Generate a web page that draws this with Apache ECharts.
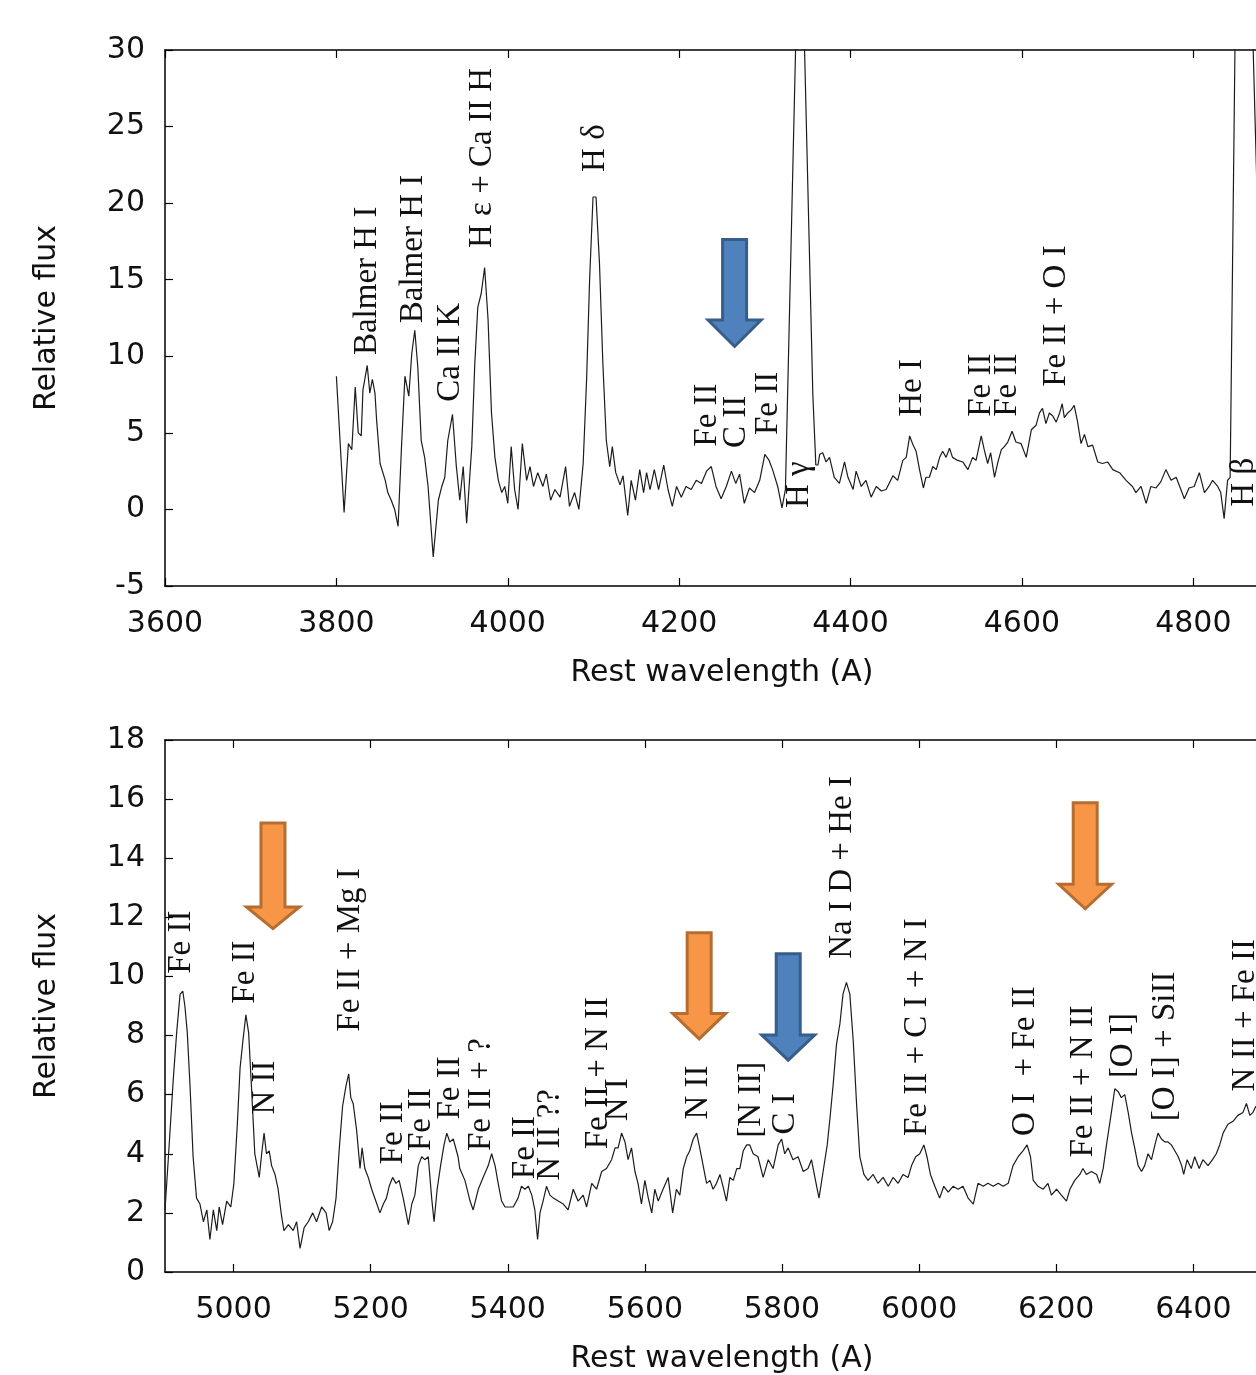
<!DOCTYPE html>
<html>
<head>
<meta charset="utf-8">
<script src="https://cdn.jsdelivr.net/npm/echarts@6/dist/echarts.min.js"></script>
<style>
html, body { margin: 0; padding: 0; background: #fff; overflow: hidden; }
#chart { width: 1300px; height: 1375px; }
</style>
</head>
<body>
<div id="chart"></div>
<script>
// ---------- DATA ----------
const topSpectrum = [
[3800,8.7],[3809,-0.2],[3814,4.3],[3818,3.9],[3822,8.0],[3825.5,5.0],[3829,4.8],[3831,7.8],[3836,9.4],[3839,7.6],[3842,8.5],[3845,7.6],[3847,5.8],[3851,3.0],[3857,1.9],[3860,1.1],[3864,0.6],[3868,0.0],[3872,-1.1],[3876,4.1],[3880,8.7],[3884.5,7.4],[3888,10.2],[3891.5,11.7],[3895,9.3],[3899,4.5],[3903,3.4],[3907,1.5],[3913,-3.1],[3919,0.6],[3923,1.5],[3926.5,2.1],[3930,4.5],[3935.5,6.2],[3940,2.8],[3944,0.6],[3948,2.8],[3952,-0.9],[3958,4.1],[3961.5,9.5],[3965,13.2],[3969,14.1],[3973,15.8],[3977,12.4],[3981,6.3],[3985,3.4],[3989,1.9],[3993,1.1],[3996.5,1.5],[4000,0.4],[4004,4.1],[4008,1.3],[4012,0.0],[4017,4.3],[4022,1.9],[4026,2.8],[4030,1.5],[4035,2.4],[4041,1.5],[4045,2.3],[4050,0.6],[4055,1.3],[4061,0.8],[4067.5,2.8],[4072,0.2],[4078,1.1],[4083,0.0],[4088,3.0],[4092,8.5],[4095.5,15.0],[4099.5,20.4],[4103,20.4],[4107,16.1],[4111,9.5],[4115,4.5],[4119,2.8],[4122,4.1],[4126,2.4],[4131,1.6],[4134.5,2.2],[4140,-0.4],
[4144,1.9],[4149,0.6],[4154,2.6],[4158.5,1.1],[4162,2.4],[4166,1.3],[4171,2.6],[4176,1.3],[4182,2.9],[4187,1.3],[4192,0.2],[4197,1.5],[4202.5,0.8],[4208,1.5],[4214,1.3],[4220,1.9],[4226,1.7],[4232,2.5],[4237.5,2.8],[4243,1.5],[4249,0.7],[4255,1.5],[4261,2.5],[4266,1.7],[4270.5,2.3],[4276,0.4],[4282,1.4],[4288,1.1],[4294,1.9],[4300,3.6],[4305,3.2],[4309,2.6],[4315,1.5],[4320,0.1],[4324,1.3],
[4341,42.5],[4356,7.5],[4359.5,2.9],[4362,2.9],[4364,3.6],[4367.5,3.7],[4371.5,3.1],[4375.5,3.4],[4381,2.1],[4387,1.7],[4393,3.1],[4397,2.1],[4403,1.3],[4406.5,2.5],[4412.5,1.5],[4418,1.9],[4424,0.8],[4430,1.5],[4436,1.2],[4441.5,1.3],[4449.5,2.2],[4455,1.9],[4461,3.2],[4465,3.4],[4469,4.8],[4473,4.2],[4476.5,3.8],[4480.5,2.6],[4485,1.4],[4488,2.1],[4492,2.1],[4496,2.8],[4500,2.6],[4504,3.4],[4507.5,3.8],[4511.5,3.4],[4515.5,4.0],[4519,3.4],[4525,3.2],[4531,3.1],[4537,2.6],[4542.5,3.4],[4546.5,3.2],[4552.5,4.8],[4556,3.9],[4560,3.0],[4563.5,3.7],[4568,2.1],[4572,3.1],[4576,3.9],[4579.5,4.1],[4583.5,4.4],[4588.5,5.1],[4593,4.4],[4599,4.3],[4605,3.4],[4611,5.2],[4616.5,5.5],[4620.5,6.3],[4624,6.6],[4628,5.6],[4632,6.3],[4636,6.1],[4640,5.7],[4644,6.3],[4647,6.9],[4649.5,6.0],[4653.5,6.3],[4657.5,6.5],[4661,6.8],[4665,5.7],[4669,4.3],[4673,4.9],[4677,4.1],[4682.5,4.2],[4688.5,3.1],[4694,3.0],[4700,3.1],[4706,2.6],[4714,2.4],[4721.5,1.9],[4729,1.5],[4733,1.1],[4739,1.5],[4745,0.4],[4750.5,1.5],[4756.5,1.4],[4762,1.8],[4768,2.6],[4774,1.9],[4780,2.1],[4785.5,1.3],[4789.5,0.7],[4795,1.4],[4801,1.5],[4807,2.4],[4813,1.1],[4818.5,1.5],[4822.5,1.9],[4828.5,1.5],[4832,1.1],[4836,-0.6],[4840,1.9],[4843,2.1],[4855,62],[4866,38],[4872.3,25],[4880,9],[4888,3],[4900,2.0]
];

const bottomSpectrum = [
[4900,2.1],[4905,3.9],[4912,6.5],[4917,8.1],[4922,9.4],[4926,9.5],[4929,9.0],[4932.5,8.1],[4936.5,6.3],[4941,3.9],[4946,2.5],[4951,2.3],[4956,1.7],[4961,2.1],[4965.5,1.1],[4970.5,2.1],[4975.5,1.4],[4979,2.2],[4984,1.6],[4990,2.4],[4996,2.2],[5000.5,3.0],[5005.5,5.0],[5009.5,6.9],[5014,7.9],[5018,8.7],[5022,8.1],[5026.5,6.1],[5031,4.0],[5037.5,3.2],[5041,4.0],[5044.5,4.7],[5048,4.0],[5052,4.1],[5055.5,3.6],[5060.5,3.3],[5065,2.8],[5070,1.9],[5073.5,1.4],[5080,1.6],[5087,1.4],[5092,1.7],[5097,0.8],[5103,1.5],[5109,1.7],[5115.5,2.0],[5121,1.7],[5128.5,2.2],[5135,2.0],[5139.5,1.4],[5144.5,1.7],[5149.5,2.5],[5154,4.1],[5159,5.6],[5164,6.3],[5168,6.7],[5171,5.9],[5174.5,5.7],[5179.5,4.8],[5184.5,3.5],[5187.5,4.2],[5191.5,3.5],[5196.5,3.2],[5201.5,2.8],[5207.5,2.4],[5213.5,2.0],[5218.5,2.3],[5223,2.5],[5227,2.9],[5232,3.2],[5237,3.0],[5241.5,3.1],[5247.5,2.5],[5255,1.6],[5260,2.3],[5264.5,2.6],[5269.5,3.6],[5274.5,3.9],[5279,3.8],[5284,3.9],[5289,2.5],[5292.5,1.7],[5297,2.8],[5302,3.6],[5307,4.3],[5311,4.7],[5315.5,4.4],[5320.5,4.5],[5327.5,3.9],[5330,3.5],[5337.5,3.1],[5345,2.4],[5349.5,2.1],[5357,2.8],[5364,3.2],[5371.5,3.6],[5376.5,4.0],[5381.5,3.6],[5386,3.0],[5391,2.4],[5396,2.2],[5400.5,2.2],[5408,2.2],[5415,2.5],[5420,2.9],[5425,2.8],[5430,2.9],[5435,2.6],[5439.5,2.1],[5443.5,1.1],[5447,2.0],[5451.5,2.4],[5456.5,2.9],[5461.5,2.6],[5466.5,2.5],[5473.5,2.4],[5481,2.3],[5488,2.1],[5495.5,2.8],[5502.5,2.4],[5510,2.6],[5515,2.2],[5522.5,3.0],[5529.5,2.8],[5537,3.4],[5544,3.5],[5551.5,3.8],[5556.5,4.2],[5561,4.2],[5566,4.7],[5571,4.4],[5575.5,3.8],[5580.5,4.2],[5585.5,3.4],[5590,3.0],[5595,2.3],[5600,3.1],[5605,2.5],[5610,2.0],[5614.5,2.8],[5619.5,2.4],[5626.5,2.8],[5634,3.2],[5640.5,2.0],[5646,2.8],[5651,2.6],[5656,3.5],[5661,3.9],[5665.5,4.1],[5670.5,4.5],[5675.5,4.7],[5680,4.2],[5685,3.6],[5690,3.0],[5695,3.1],[5699.5,2.8],[5704.5,3.0],[5709.5,3.3],[5714,2.9],[5719,2.4],[5724,3.2],[5729,3.1],[5734,3.5],[5738.5,3.5],[5743.5,4.1],[5748.5,4.3],[5753,4.3],[5758,4.0],[5765,3.9],[5772.5,3.2],[5780,3.8],[5787,3.5],[5794.5,4.3],[5799.5,4.5],[5804,4.0],[5809,4.2],[5816,3.8],[5823.5,3.9],[5831,3.4],[5838,3.5],[5843,3.8],[5848,3.2],[5854,2.5],[5860,3.4],[5866,4.3],[5870,5.2],[5874.5,6.3],[5879.5,7.7],[5884.5,8.4],[5889,9.4],[5894,9.8],[5899,9.4],[5904,7.8],[5909,5.6],[5913.5,3.9],[5919.5,3.3],[5925.5,3.1],[5933,3.3],[5940,3.0],[5947.5,3.2],[5955,2.9],[5962,3.2],[5969.5,3.0],[5976.5,3.3],[5984,3.2],[5989,3.6],[5995,3.9],[6001,4.0],[6007,4.3],[6011.5,3.9],[6016.5,3.3],[6023,2.9],[6030,2.5],[6036,2.9],[6042.5,2.7],[6049.5,2.9],[6057,2.8],[6064,2.9],[6071.5,2.5],[6079,2.3],[6086,3.0],[6093.5,2.9],[6100.5,3.0],[6108,2.9],[6115.5,3.0],[6122.5,2.9],[6130,3.0],[6137,3.6],[6144.5,3.9],[6151.5,4.1],[6157.5,4.3],[6162.5,3.9],[6166.5,3.1],[6173.5,2.9],[6181,2.8],[6188,3.0],[6193,2.6],[6200.5,2.8],[6207.5,2.6],[6215,2.4],[6220,2.8],[6227,3.1],[6234.5,3.3],[6239,3.5],[6244,3.3],[6251.5,3.4],[6259,3.3],[6263.5,3.0],[6268.5,3.5],[6274,4.4],[6280.5,5.4],[6285.5,6.2],[6290.5,6.1],[6295,5.9],[6300,6.0],[6305,5.4],[6310,4.7],[6314.5,4.2],[6319.5,3.6],[6324.5,3.4],[6329,3.6],[6334,4.0],[6339,3.8],[6344,4.3],[6348.5,4.7],[6353.5,4.5],[6358.5,4.4],[6363,4.4],[6368,4.3],[6373,4.1],[6378,3.9],[6383,3.6],[6386,3.3],[6391,3.8],[6397,3.5],[6402,3.9],[6408.5,3.5],[6414,3.8],[6421.5,3.6],[6428,3.8],[6433.5,4.0],[6438.5,4.3],[6443.5,4.7],[6450.5,5.0],[6458,5.1],[6465,5.3],[6472.5,5.4],[6477.5,5.7],[6482.5,5.3],[6487,5.4],[6491,5.6],[6500,5.5]
];

const topXTicks = [3600, 3800, 4000, 4200, 4400, 4600, 4800];
const bottomXTicks = [5000, 5200, 5400, 5600, 5800, 6000, 6200, 6400];

const topLabelText = ['Balmer H I', 'Balmer H I', 'Ca II K', 'H \u03B5 + Ca II H', 'H \u03B4', 'Fe II', 'C II', 'Fe II', 'H \u03B3', 'He I', 'Fe II', 'Fe II', 'Fe II + O I', 'H \u03B2'];
const topLabelWl   = [3836.1, 3889.6, 3932.4, 3970.8, 4102.6, 4233.2, 4267.0, 4303.7, 4340.5, 4471.7, 4552.2, 4582.5, 4640.2, 4859.5];
const topLabelFlux = [10.08, 12.16, 7.03, 17.07, 22.04, 4.10, 4.01, 4.86, 0.09, 6.05, 6.05, 6.05, 8.01, 0.18];

const bottomLabelText = ['Fe II', 'Fe II', 'N II', 'Fe II + Mg I', 'Fe II', 'Fe II', 'Fe II', 'Fe II + ?', 'Fe II', 'N II ??', 'Fe II + N II', 'N I', 'N II', '[N II]', 'C I', 'Na I D + He I', 'Fe II + C I + N I', 'O I  + Fe II', 'Fe II + N II', '[O I]', '[O I] + SiII', 'N II + Fe II'];
const bottomLabelWl   = [4924.4, 5017.9, 5045.8, 5169.8, 5232.5, 5274.4, 5315.6, 5361.9, 5425.0, 5462.6, 5531.9, 5562.0, 5677.9, 5755.3, 5804.2, 5888.0, 5998.0, 6155.2, 6239.2, 6298.5, 6359.8, 6476.5];
const bottomLabelFlux = [10.09, 9.08, 5.33, 8.13, 3.64, 4.09, 5.16, 4.09, 3.14, 3.09, 4.15, 5.10, 5.16, 4.54, 4.65, 10.60, 4.60, 4.60, 3.87, 6.56, 5.10, 6.11];

// arrows: wavelength, shaft top flux, head base flux, tip flux, kind
const topArrowWl    = [4264.7];
const topArrowTop   = [17.63];
const topArrowBase  = [12.37];
const topArrowTip   = [10.64];
const topArrowKind  = ['blue'];

const bottomArrowWl   = [5057.5, 5679.2, 5809.1, 6242.3];
const bottomArrowTop  = [15.19, 11.48, 10.77, 15.88];
const bottomArrowBase = [12.35, 8.75, 8.02, 13.12];
const bottomArrowTip  = [11.62, 7.89, 7.17, 12.29];
const bottomArrowKind = ['orange', 'orange', 'blue', 'orange'];

// ---------- STYLE ----------
const SANS = 'DejaVu Sans';
const SERIF = 'Liberation Serif';
const INK = '#111';
const arrowColors = {
  blue:   { fill: '#4F81BD', stroke: '#385D8A' },
  orange: { fill: '#F79646', stroke: '#B66D31' }
};
const plainNumber = v => String(v);

function bottomXAxis(gridIndex, min, max, ticks) {
  return {
    type: 'value', gridIndex, min, max, position: 'bottom',
    axisLine: { show: true, onZero: false, lineStyle: { color: '#000', width: 1.5 } },
    axisTick: { show: true, inside: true, length: 8, customValues: ticks, lineStyle: { color: '#000', width: 1.2 } },
    axisLabel: { show: true, customValues: ticks, formatter: plainNumber, fontFamily: SANS, fontSize: 30, color: INK, margin: 23 },
    splitLine: { show: false },
    name: 'Rest wavelength (A)', nameLocation: 'middle', nameGap: 72,
    nameTextStyle: { fontFamily: SANS, fontSize: 30, color: INK }
  };
}
function topXAxis(gridIndex, min, max, ticks) {
  return {
    type: 'value', gridIndex, min, max, position: 'top',
    axisLine: { show: true, onZero: false, lineStyle: { color: '#000', width: 1.5 } },
    axisTick: { show: true, inside: true, length: 8, customValues: ticks, lineStyle: { color: '#000', width: 1.2 } },
    axisLabel: { show: false }, splitLine: { show: false }
  };
}
function leftYAxis(gridIndex, min, max, interval) {
  return {
    type: 'value', gridIndex, min, max, interval, position: 'left',
    axisLine: { show: true, onZero: false, lineStyle: { color: '#000', width: 1.5 } },
    axisTick: { show: true, inside: true, length: 8, lineStyle: { color: '#000', width: 1.2 } },
    axisLabel: { show: true, formatter: plainNumber, fontFamily: SANS, fontSize: 30, color: INK, margin: 20 },
    splitLine: { show: false },
    name: 'Relative flux', nameLocation: 'middle', nameGap: 103, nameRotate: 90,
    nameTextStyle: { fontFamily: SANS, fontSize: 30, color: INK }
  };
}
function rightYAxis(gridIndex, min, max, interval) {
  return {
    type: 'value', gridIndex, min, max, interval, position: 'right',
    axisLine: { show: true, onZero: false, lineStyle: { color: '#000', width: 1.5 } },
    axisTick: { show: true, inside: true, length: 8, lineStyle: { color: '#000', width: 1.2 } },
    axisLabel: { show: false }, splitLine: { show: false }
  };
}

function spectrumSeries(idx, data) {
  return {
    type: 'line', xAxisIndex: idx * 2, yAxisIndex: idx * 2, data,
    showSymbol: false, symbol: 'none', clip: true, silent: true,
    lineStyle: { color: '#1c1c1c', width: 1.2 }, animation: false, z: 3
  };
}

function labelSeries(idx, texts, wls, fluxes) {
  return {
    type: 'custom', xAxisIndex: idx * 2, yAxisIndex: idx * 2, clip: false, silent: true, z: 6,
    data: wls.map((w, i) => [w, fluxes[i]]),
    encode: { x: 0, y: 1 },
    renderItem: function (params, api) {
      const p = api.coord([api.value(0), api.value(1)]);
      return {
        type: 'text', x: p[0], y: p[1], rotation: Math.PI / 2,
        style: {
          text: texts[params.dataIndex], fill: INK,
          fontFamily: SERIF, fontSize: 33,
          align: 'left', verticalAlign: 'middle'
        }
      };
    },
    animation: false
  };
}

function arrowSeries(idx, wl, top, base, tip, kind) {
  return {
    type: 'custom', xAxisIndex: idx * 2, yAxisIndex: idx * 2, clip: false, silent: true, z: 7,
    data: wl.map((w, i) => [w, top[i], base[i], tip[i]]),
    encode: { x: 0, y: [1, 2, 3] },
    renderItem: function (params, api) {
      const w = api.value(0);
      const t = api.coord([w, api.value(1)]);
      const b = api.coord([w, api.value(2)]);
      const p = api.coord([w, api.value(3)]);
      const x = t[0], sh = 12, hh = 26.5;
      const c = arrowColors[kind[params.dataIndex]];
      return {
        type: 'polygon',
        shape: { points: [[x - sh, t[1]], [x + sh, t[1]], [x + sh, b[1]], [x + hh, b[1]], [x, p[1]], [x - hh, b[1]], [x - sh, b[1]]] },
        style: { fill: c.fill, stroke: c.stroke, lineWidth: 3, lineJoin: 'miter' }
      };
    },
    animation: false
  };
}

const chart = echarts.init(document.getElementById('chart'), null, { renderer: 'canvas' });
chart.setOption({
  backgroundColor: '#fff',
  animation: false,
  grid: [
    { left: 165, top: 50, width: 1114, height: 536 },
    { left: 165, top: 740, width: 1114, height: 535 }
  ],
  xAxis: [
    bottomXAxis(0, 3600, 4900, topXTicks),
    topXAxis(0, 3600, 4900, topXTicks),
    bottomXAxis(1, 4900, 6525, bottomXTicks),
    topXAxis(1, 4900, 6525, bottomXTicks)
  ],
  yAxis: [
    leftYAxis(0, -5, 30, 5),
    rightYAxis(0, -5, 30, 5),
    leftYAxis(1, 0, 18, 2),
    rightYAxis(1, 0, 18, 2)
  ],
  series: [
    spectrumSeries(0, topSpectrum),
    spectrumSeries(1, bottomSpectrum),
    labelSeries(0, topLabelText, topLabelWl, topLabelFlux),
    labelSeries(1, bottomLabelText, bottomLabelWl, bottomLabelFlux),
    arrowSeries(0, topArrowWl, topArrowTop, topArrowBase, topArrowTip, topArrowKind),
    arrowSeries(1, bottomArrowWl, bottomArrowTop, bottomArrowBase, bottomArrowTip, bottomArrowKind)
  ]
});
</script>
</body>
</html>
